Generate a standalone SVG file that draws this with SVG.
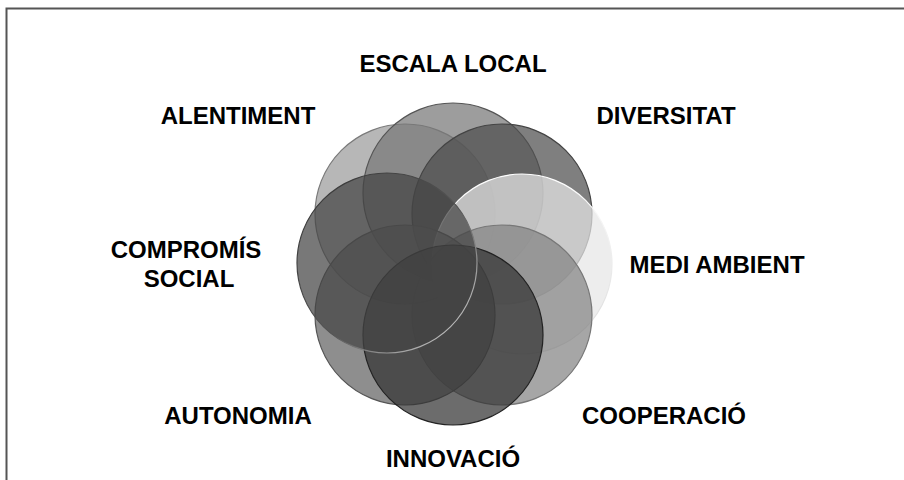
<svg xmlns="http://www.w3.org/2000/svg" width="904" height="480" viewBox="0 0 904 480">
  <defs>
    <style>
      .lbl { font-family: "Liberation Sans", Arial, sans-serif; font-weight: bold; font-size: 24px; fill: #000; text-anchor: middle; }
      .c { fill-opacity: 0.72; stroke-width: 1.2; }
    </style>
    <linearGradient id="gComp" x1="0" y1="0" x2="1" y2="1">
      <stop offset="0" stop-color="#333"/>
      <stop offset="0.55" stop-color="#555"/>
      <stop offset="1" stop-color="#e6e6e6"/>
    </linearGradient>
    <linearGradient id="gMedi" x1="0" y1="0" x2="0" y2="1">
      <stop offset="0" stop-color="#ffffff"/>
      <stop offset="1" stop-color="#d8d8d8"/>
    </linearGradient>
  </defs>
  <rect width="904" height="480" fill="#fff"/>
  <path d="M 6.5 480 V 8.5 H 904" fill="none" stroke="#555" stroke-width="2"/>

  <g id="circles">
    <g id="n-alentiment"><circle class="c" cx="405" cy="214" r="90" fill="#9b9b9b" stroke="#7a7a7a"/></g>
    <g id="n-escala"><circle class="c" cx="453" cy="193" r="90" fill="#777" stroke="#555"/></g>
    <g id="n-diversitat"><circle class="c" cx="502" cy="214" r="90" fill="#4e4e4e" stroke="#444"/></g>
    <g id="n-medi"><circle class="c" cx="522" cy="264" r="90" fill="#e6e6e6" stroke="url(#gMedi)" stroke-width="1.5"/></g>
    <g id="n-cooperacio"><circle class="c" cx="502" cy="315" r="90" fill="#838383" stroke="#777"/></g>
    <g id="n-autonomia"><circle class="c" cx="405" cy="315" r="90" fill="#626262" stroke="#555"/></g>
    <g id="n-innovacio"><circle class="c" cx="453" cy="335" r="90" fill="#333" stroke="#222"/></g>
    <g id="n-compromis"><circle class="c" cx="387" cy="263" r="90" fill="#444" stroke="url(#gComp)" stroke-width="1.5"/></g>
  </g>

  <g id="labels">
    <text class="lbl" x="453" y="72">ESCALA LOCAL</text>
    <text class="lbl" x="238" y="124">ALENTIMENT</text>
    <text class="lbl" x="666" y="124">DIVERSITAT</text>
    <text class="lbl" x="717" y="273">MEDI AMBIENT</text>
    <text class="lbl" x="186" y="258">COMPROMÍS</text>
    <text class="lbl" x="189" y="287">SOCIAL</text>
    <text class="lbl" x="238" y="424">AUTONOMIA</text>
    <text class="lbl" x="664" y="424">COOPERACIÓ</text>
    <text class="lbl" x="453" y="467">INNOVACIÓ</text>
  </g>
</svg>
